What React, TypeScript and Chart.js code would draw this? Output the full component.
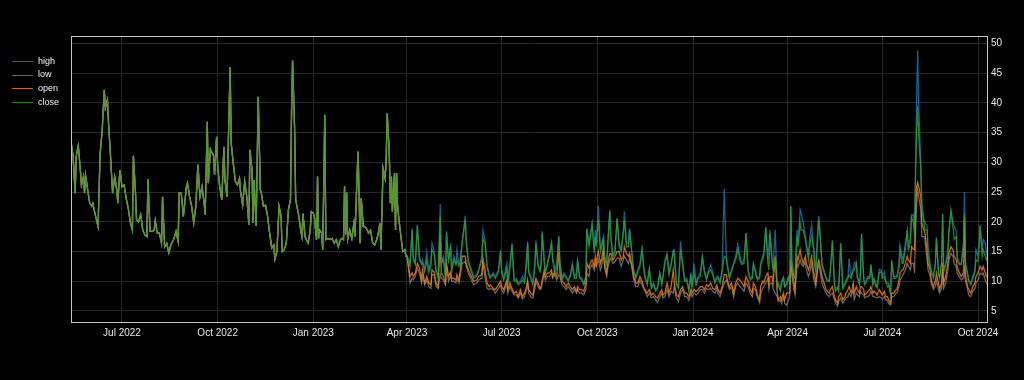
import React, { useEffect, useRef } from 'react';
import { Chart, registerables } from 'chart.js';

Chart.register(...registerables);

// ---------- data ----------
const START_DATE = '2022-05-13';

const tickDates = ['2022-07-01', '2022-10-01', '2023-01-01', '2023-04-01', '2023-07-01', '2023-10-01', '2024-01-01', '2024-04-01', '2024-07-01', '2024-10-01'];
const tickLabels = ['Jul 2022', 'Oct 2022', 'Jan 2023', 'Apr 2023', 'Jul 2023', 'Oct 2023', 'Jan 2024', 'Apr 2024', 'Jul 2024', 'Oct 2024'];
const yTicks = [5, 10, 15, 20, 25, 30, 35, 40, 45, 50];

const seriesNames = ['high', 'low', 'open', 'close'];
const seriesColors = ['rgba(31,119,180,0.8)', 'rgba(127,127,127,0.8)', 'rgba(255,127,14,0.8)', 'rgba(44,160,44,0.8)'];

// days since START_DATE; before Apr 2023 all four series coincide
const earlyDays = [0,2,4,5,7,9,10,12,13,14,16,18,20,21,23,26,28,30,32,33,35,36,38,40,42,44,45,47,49,51,53,55,57,59,60,62,63,65,67,69,71,73,74,76,78,80,81,83,85,87,88,90,92,94,96,99,101,103,104,106,108,111,112,114,116,118,120,122,124,126,128,129,131,132,134,135,137,138,140,141,143,145,147,148,150,153,154,156,158,160,162,163,165,167,169,171,172,174,175,176,178,180,182,183,185,187,189,191,193,195,196,198,200,202,203,205,207,209,211,212,213,215,216,219,221,222,223,225,227,228,230,231,233,234,236,237,238,239,241,242,244,245,247,249,251,253,255,257,259,261,262,263,264,265,266,268,270,272,273,275,276,278,279,281,282,284,286,288,290,292,294,296,297,298,300,302,303,304,306,307,308,309,311,312,313,314,316,318,319,321,322];
const earlyValues = [33.5,31.0,24.8,31.0,32.8,28.7,26.2,27.6,24.8,27.8,25.4,23.1,22.6,23.1,21.4,19.2,31.5,35.4,42.2,39.1,40.5,36.8,31.0,24.8,27.6,25.4,23.1,28.7,25.9,26.2,24.0,22.3,20.0,18.6,31.1,24.8,20.3,20.0,21.2,18.6,17.8,17.5,27.2,18.4,18.4,18.6,20.2,18.1,18.1,16.4,24.2,15.8,16.4,14.8,16.1,17.2,18.4,16.7,24.9,24.8,20.9,25.9,26.5,24.2,22.6,19.8,22.6,29.6,24.2,25.9,23.1,21.2,36.8,26.5,32.2,31.8,31.2,27.9,34.3,29.3,25.9,23.7,32.6,27.0,24.2,46.0,33.2,29.8,26.8,26.2,27.3,25.1,22.8,26.8,24.2,19.5,32.1,28.7,19.8,27.0,19.3,41.0,25.4,24.8,22.6,22.8,20.9,18.1,15.6,16.1,13.7,15.0,22.6,20.9,15.0,15.3,16.4,22.0,23.7,38.2,47.1,35.4,23.7,21.0,18.4,17.5,21.4,17.5,16.7,16.4,18.6,21.7,21.4,20.9,17.0,27.6,17.2,18.6,18.1,15.3,38.0,17.0,17.2,17.0,17.2,16.4,17.0,15.8,17.0,17.2,17.0,26.0,17.8,24.9,17.0,18.6,17.2,19.8,17.5,27.6,31.8,16.4,24.0,19.2,19.2,18.9,18.1,18.6,16.4,16.1,17.0,18.6,19.8,15.3,29.0,27.3,30.4,38.2,31.5,23.1,27.6,21.7,28.2,18.6,28.2,22.6,19.2,16.4,15.0,15.3,14.2];

const lateDays = [323,325,326,328,329,331,333,335,337,338,340,342,344,346,347,349,351,353,355,356,358,360,361,363,365,366,368,370,371,373,374,376,379,380,382,385,387,390,392,395,396,398,400,402,403,406,408,411,413,414,416,419,420,422,424,426,428,430,432,434,436,
438,439,440,442,444,446,447,449,451,452,453,455,456,458,460,462,463,465,467,469,470,472,474,476,478,480,482,484,486,487,489,491,493,495,496,498,499,501,503,504,505,507,509,510,512,513,515,516,518,519,521,523,525,527,529,531,532,534,536,537,539,541,543,545,547,549,551,552,554,556,558,560,562,564,566,568,569,571,573,575,577,579,580,582,584,586,588,590,592,594,596,597,599,601,603,605,607,609,611,613,615,617,619,621,622,624,626,628,630,631,633,635,637,639,641,643,645,647,649,651,
653,655,656,658,660,662,663,665,666,668,670,671,672,674,675,677,679,680,682,683,685,686,688,690,691,692,693,695,696,698,699,701,702,704,706,707,709,710,712,714,715,716,718,719,721,722,724,726,727,729,730,732,734,735,737,738,740,742,744,745,747,748,750,752,753,755,756,758,759,760,762,763,765,766,768,769,771,772,774,775,777,779,780,782,783,785,786,788,789,791,793,794,796,797,799,800,802,804,805,807,808,810,811,812,813,814,815,817,818,820,821,823,824,826,827,829,831,832,834,835,837,838,839,841,843,844,846,848,849,851,852,854,856,858,859,860,862,863,865,867,869,870,872,873,874,876,877,879,880,881];

const highValues = [14.2,13.6,13.0,18.9,14.2,13.0,19.5,14.2,13.0,13.6,11.9,15.0,11.9,13.0,16.4,15.3,11.9,10.8,23.0,13.0,14.2,10.8,18.4,13.6,16.4,11.9,14.2,13.0,15.3,12.8,13.0,16.4,21.0,17.0,13.6,11.9,10.8,11.1,11.9,14.2,18.6,17.0,13.0,11.1,10.8,11.4,10.8,11.9,15.3,11.9,10.5,13.0,9.7,12.8,16.4,10.2,10.5,9.7,10.0,10.8,10.0,
14.2,16.7,11.9,10.8,9.7,13.0,16.9,13.0,11.9,13.0,18.4,13.6,11.6,13.0,14.7,16.4,14.2,11.9,13.0,17.6,13.6,10.5,11.4,10.8,10.2,11.1,13.0,10.8,11.4,13.6,10.8,10.5,9.7,10.8,18.9,16.4,17.5,19.8,15.3,18.6,16.4,22.7,15.3,15.8,17.5,14.2,13.0,16.4,22.0,17.5,14.2,15.3,20.6,16.4,15.3,18.6,21.7,16.4,16.4,18.9,15.3,11.9,10.8,11.9,13.0,15.6,11.9,10.8,9.7,12.2,9.1,9.7,8.6,9.1,11.4,9.7,10.8,13.6,14.6,11.4,13.0,15.2,15.3,9.7,9.1,16.7,13.0,10.2,10.5,8.6,11.4,9.1,13.0,9.7,10.8,11.4,14.2,11.9,10.5,11.9,12.8,11.4,10.0,10.8,10.8,10.0,11.9,25.5,14.2,13.0,10.8,11.9,13.0,14.2,16.2,14.2,13.0,13.6,18.1,11.9,
10.5,10.8,13.0,11.9,10.5,10.8,13.0,14.2,14.7,19.1,13.6,16.1,18.6,13.6,11.9,18.6,9.1,9.7,8.6,10.0,10.7,9.1,9.7,10.8,9.7,22.6,13.6,10.8,10.8,18.6,16.4,22.0,21.4,19.8,17.5,16.4,14.2,17.0,19.5,15.8,13.0,11.9,19.5,21.0,15.8,13.0,11.9,10.8,10.2,10.2,11.9,16.9,9.7,8.6,9.1,8.6,16.4,9.1,9.7,10.2,10.8,13.8,10.8,11.9,13.0,13.3,10.8,9.7,11.9,18.0,10.8,9.7,10.2,10.8,10.8,12.8,9.7,10.5,9.4,9.1,12.0,11.9,10.8,11.6,10.2,9.7,9.7,8.0,13.6,10.8,10.8,10.8,13.0,16.1,14.2,13.6,16.1,18.6,15.8,17.2,20.9,21.2,18.6,29.8,41.0,48.8,39.4,29.6,23.1,20.3,19.9,19.2,15.8,13.0,11.9,10.8,13.0,17.4,11.4,10.8,13.0,21.4,11.9,13.0,15.3,18.6,22.0,19.8,19.2,18.6,14.2,13.0,13.0,16.4,25.0,13.0,11.4,10.2,9.7,10.8,11.9,15.3,14.2,15.8,19.5,15.3,17.0,16.4,14.7,15.3];

const closeValues = [14.2,13.0,12.5,18.6,13.6,12.8,19.3,13.6,12.8,13.0,11.6,13.6,11.4,12.8,15.3,14.7,11.6,10.5,20.9,13.0,13.6,10.5,18.2,13.0,15.8,11.6,13.6,12.8,13.6,12.5,12.8,16.4,20.3,16.4,13.0,11.6,10.5,10.8,11.9,13.6,17.2,16.4,12.5,10.8,10.5,11.1,10.5,11.6,15.0,11.6,10.2,12.2,9.4,12.5,16.1,10.0,10.2,9.4,9.7,10.2,9.7,
13.0,16.4,11.4,10.5,9.4,12.5,16.4,12.5,11.6,12.8,18.1,13.0,11.4,12.8,14.2,16.4,13.6,11.4,12.5,17.5,13.0,10.2,11.1,10.5,10.0,10.8,12.5,10.5,10.5,13.6,10.5,10.2,9.4,10.5,18.8,15.8,17.0,19.5,14.7,17.5,15.8,20.3,15.0,15.8,17.2,13.6,12.8,15.8,21.7,17.2,14.2,15.0,20.6,15.8,15.0,18.1,20.3,15.8,15.8,18.6,15.0,11.6,10.5,11.6,12.5,15.3,11.4,10.5,9.4,11.9,8.8,9.4,8.3,8.8,11.4,9.4,10.5,13.0,14.4,11.1,12.8,15.0,14.2,9.4,8.8,15.3,12.8,10.0,10.2,8.3,11.1,8.8,11.4,9.4,10.5,10.8,13.9,11.4,10.2,11.6,11.9,11.1,9.7,10.5,10.5,9.7,11.6,14.2,13.9,12.5,10.5,11.6,12.8,13.6,15.3,13.6,12.8,13.0,18.1,11.6,
10.2,10.5,12.8,11.4,10.2,10.5,12.8,13.6,14.2,18.9,13.0,11.9,18.1,13.6,11.6,13.6,9.1,9.4,8.3,9.7,10.5,9.1,9.4,10.5,9.4,22.6,13.3,10.5,10.5,17.5,15.8,19.8,18.6,18.6,17.0,15.8,13.6,15.8,17.5,15.3,12.8,11.6,17.5,20.3,15.6,12.8,11.4,10.5,10.0,10.0,11.6,16.7,9.4,8.3,8.8,8.3,16.4,8.8,9.4,9.7,10.5,11.1,10.5,11.9,11.9,13.0,10.5,9.4,10.8,18.0,10.5,9.4,10.0,10.5,10.5,12.8,9.4,10.2,9.1,8.8,11.4,11.6,10.5,10.8,10.0,9.1,9.4,7.7,13.3,10.5,10.5,10.8,11.9,15.3,13.0,13.0,15.3,18.6,15.3,16.4,20.9,19.8,17.5,28.7,35.4,39.4,34.3,28.7,22.0,19.8,18.6,18.6,14.2,12.5,11.4,10.5,12.8,17.2,11.1,10.5,13.0,21.3,11.6,12.8,14.2,18.1,21.7,19.2,17.0,17.5,13.6,12.8,12.8,15.8,21.4,12.8,11.1,10.0,9.4,10.5,11.6,13.6,13.3,15.8,19.2,14.2,15.3,14.2,13.6,14.2];

const openValues = [14.2,11.9,10.8,11.4,10.8,11.4,13.0,12.2,10.2,11.9,9.7,10.8,9.7,9.4,11.9,11.6,9.7,9.1,17.8,11.4,10.8,9.7,13.0,10.8,11.6,10.5,10.5,10.2,11.1,10.2,11.4,14.2,14.2,13.0,11.9,10.8,10.0,10.2,10.8,11.1,13.9,11.9,9.7,9.1,9.4,8.8,8.6,9.4,10.0,9.1,8.6,10.2,8.6,9.7,8.8,8.0,8.3,7.4,8.6,7.4,8.0,
9.1,10.2,8.6,8.0,7.7,9.7,10.5,9.7,8.8,9.1,10.2,11.9,10.8,11.4,11.4,11.9,10.8,11.6,10.8,15.0,11.4,10.0,9.7,9.1,9.7,9.1,8.6,9.1,8.3,9.1,8.6,8.6,8.3,9.7,13.0,12.2,13.0,13.6,12.5,14.2,13.0,15.0,13.0,13.6,15.8,13.0,11.4,13.0,14.7,14.7,13.6,14.2,15.0,15.0,13.6,14.2,15.8,14.7,14.2,14.7,13.0,10.8,9.7,9.7,10.8,10.0,8.8,8.6,8.0,8.6,7.7,8.0,7.4,7.2,8.0,8.6,7.7,8.0,9.7,8.0,9.1,11.9,9.7,7.7,7.4,8.6,9.1,8.0,8.0,7.4,8.6,8.0,8.6,8.3,8.6,9.1,9.1,8.6,9.4,9.1,9.7,8.8,8.6,9.4,8.6,8.0,9.1,11.1,11.1,10.2,9.1,9.7,8.0,9.7,10.5,10.2,9.7,9.1,10.8,10.0,
8.6,8.0,9.7,9.1,7.7,6.9,9.1,10.0,9.7,10.8,11.4,9.7,10.8,10.8,9.7,14.2,8.0,6.9,7.4,6.9,8.0,6.9,8.0,8.0,8.0,13.6,11.9,9.7,8.6,14.2,13.6,15.3,14.2,13.0,14.2,13.0,11.9,12.5,14.2,11.4,10.8,9.7,13.0,13.6,11.9,10.8,9.7,8.6,8.3,8.0,8.6,9.1,7.4,6.9,6.3,7.4,8.0,6.9,7.4,8.0,8.6,9.1,8.0,9.7,8.0,9.1,8.6,8.0,9.1,9.1,8.6,7.7,8.0,8.3,8.6,9.1,8.0,8.3,8.0,7.7,8.6,8.0,7.7,8.3,7.4,7.4,6.9,6.3,8.0,8.0,8.6,8.6,10.2,11.4,11.9,11.9,13.0,14.2,13.6,13.0,15.8,15.3,15.3,22.0,25.9,26.6,25.9,24.2,19.8,18.6,18.1,15.3,13.0,11.9,10.2,9.1,10.2,11.4,9.7,8.6,9.7,13.0,9.7,10.8,13.0,14.7,15.8,15.3,14.2,13.6,12.5,11.4,10.8,11.4,20.9,10.8,9.1,8.6,8.0,9.1,9.7,10.8,11.4,11.9,12.5,11.9,12.5,11.4,10.8,11.1];

const lowValues = [14.2,11.4,9.7,10.5,10.2,10.8,12.2,11.4,9.7,11.1,9.4,10.2,9.1,8.8,11.1,11.1,9.1,8.8,11.1,10.5,10.2,9.4,12.5,10.0,11.1,10.0,10.0,9.7,10.5,9.7,10.8,13.0,13.3,12.5,11.4,10.2,9.4,9.7,10.2,10.5,13.0,10.8,8.8,8.6,8.8,8.6,8.0,8.8,9.4,8.6,8.0,9.7,8.0,9.1,8.3,7.7,7.7,7.2,8.0,7.0,7.4,
8.6,9.7,8.0,7.4,7.2,8.8,10.0,9.1,8.6,8.8,9.7,11.4,10.2,10.8,10.8,11.4,10.5,11.1,10.2,11.1,10.8,9.4,9.1,8.6,9.1,8.6,8.0,8.6,8.0,8.6,8.0,8.0,7.7,8.6,11.4,10.8,12.2,12.8,11.9,13.0,12.5,13.6,11.9,12.5,14.7,12.2,10.8,12.2,13.6,13.9,13.0,13.3,13.9,13.9,12.5,13.6,14.2,13.6,13.0,13.9,12.5,10.2,9.1,9.1,10.2,9.4,8.6,8.3,7.4,8.0,7.2,7.4,6.9,6.4,7.4,8.0,7.2,7.4,8.6,7.4,8.3,8.0,9.1,7.2,6.6,8.0,8.6,7.4,7.4,6.8,8.0,7.4,8.0,7.7,8.0,8.6,8.6,8.0,8.8,8.6,8.8,8.3,8.0,8.8,8.0,7.4,8.6,9.7,10.2,9.7,8.6,9.1,7.4,9.1,9.7,9.1,8.8,8.3,9.7,9.1,
8.0,7.4,8.8,8.6,7.2,6.4,8.0,8.8,9.1,9.7,10.5,8.6,9.7,9.7,8.8,8.0,7.4,6.6,6.9,6.3,7.4,6.3,6.0,6.9,7.4,12.5,11.1,8.6,7.7,13.0,12.5,13.6,13.0,12.5,13.3,11.9,10.8,11.4,13.0,10.5,9.7,9.1,12.2,12.8,10.8,9.7,8.8,8.0,7.7,7.4,7.7,8.0,6.9,6.3,5.8,6.6,7.2,6.3,6.9,7.2,7.4,8.0,7.4,8.6,6.9,8.0,7.7,7.4,8.3,8.0,7.7,7.2,7.4,7.4,7.7,8.3,7.4,7.4,7.2,7.2,7.4,7.2,7.0,7.4,6.9,6.8,6.3,6.0,7.4,7.4,8.0,8.0,9.1,10.2,10.8,11.1,11.9,13.0,12.5,11.9,13.0,13.0,11.4,18.6,23.1,25.4,24.2,22.0,17.5,17.5,17.0,13.6,11.9,10.8,9.7,8.6,9.1,10.2,8.6,8.0,8.8,11.9,8.8,9.7,11.9,13.6,14.7,14.2,13.0,12.5,11.4,10.8,10.2,10.5,11.9,10.0,8.6,7.7,7.4,8.3,8.8,9.7,10.2,10.8,11.4,11.1,11.4,10.2,9.7,9.4];

// ---------- helpers ----------
const DAY_MS = 86400000;
const dayOf = (d: string) => Math.round((Date.parse(d) - Date.parse(START_DATE)) / DAY_MS);
const lateSeries = [highValues, lowValues, openValues, closeValues];

const buildPoints = (late: number[]) => [
  ...earlyDays.map((x, i) => ({ x, y: earlyValues[i] })),
  ...lateDays.map((x, i) => ({ x, y: late[i] })),
];

const framePlugin = {
  id: 'frame',
  beforeDraw(chart: any) {
    const { ctx, width, height } = chart;
    ctx.save();
    ctx.fillStyle = '#000000';
    ctx.fillRect(0, 0, width, height);
    ctx.restore();
  },
  afterDraw(chart: any) {
    const { ctx, chartArea } = chart;
    ctx.save();
    ctx.strokeStyle = '#c4c4c4';
    ctx.lineWidth = 1;
    ctx.strokeRect(
      Math.round(chartArea.left) + 0.5,
      Math.round(chartArea.top) + 0.5,
      Math.round(chartArea.right - chartArea.left) - 1,
      Math.round(chartArea.bottom - chartArea.top) - 1
    );
    ctx.restore();
  },
};

export default function App() {
  const canvasRef = useRef<HTMLCanvasElement | null>(null);

  useEffect(() => {
    document.body.style.margin = '0';
    document.body.style.background = '#000';
    const canvas = canvasRef.current;
    if (!canvas) return;

    const chart = new Chart(canvas, {
      type: 'line',
      data: {
        datasets: seriesNames.map((name, i) => ({
          label: name,
          data: buildPoints(lateSeries[i]),
          borderColor: seriesColors[i],
          backgroundColor: seriesColors[i],
          borderWidth: 1.3,
          pointRadius: 0,
          fill: false,
          tension: 0,
          order: seriesNames.length - 1 - i,
        })),
      },
      options: {
        animation: false,
        responsive: false,
        maintainAspectRatio: false,
        devicePixelRatio: 1,
        layout: { padding: { left: 71, top: 36, right: 0, bottom: 0 } },
        plugins: {
          legend: { display: false },
          tooltip: { enabled: false },
        },
        scales: {
          x: {
            type: 'linear',
            position: 'bottom',
            min: 0,
            max: 881.6,
            afterBuildTicks: (axis: any) => {
              axis.ticks = tickDates.map((d) => ({ value: dayOf(d) }));
            },
            afterFit: (scale: any) => {
              scale.height = 57;
            },
            grid: { color: '#282828', lineWidth: 1, drawTicks: false },
            border: { display: false },
            ticks: {
              autoSkip: false,
              maxRotation: 0,
              minRotation: 0,
              padding: 4,
              color: '#e6e6e6',
              font: { family: '"Liberation Sans", Arial, sans-serif', size: 10 },
              callback: (_v: any, index: number) => tickLabels[index],
            },
          },
          y: {
            type: 'linear',
            position: 'right',
            min: 2.98,
            max: 51.23,
            afterBuildTicks: (axis: any) => {
              axis.ticks = yTicks.map((v) => ({ value: v }));
            },
            afterFit: (scale: any) => {
              scale.width = 36;
            },
            grid: { color: '#282828', lineWidth: 1, drawTicks: false },
            border: { display: false },
            ticks: {
              padding: 3,
              color: '#e6e6e6',
              font: { family: '"Liberation Sans", Arial, sans-serif', size: 10 },
              callback: (v: any) => String(v),
            },
          },
        },
      },
      plugins: [framePlugin],
    } as any);

    return () => chart.destroy();
  }, []);

  return (
    <div style={{ position: 'relative', width: 1024, height: 380, background: '#000', overflow: 'hidden' }}>
      <canvas ref={canvasRef} width={1024} height={380} style={{ display: 'block', width: 1024, height: 380 }} />
      <div style={{ position: 'absolute', left: 12, top: 54.5, fontFamily: '"Liberation Sans", Arial, sans-serif', fontSize: 9, color: '#f2f2f2' }}>
        {seriesNames.map((name, i) => (
          <div key={name} style={{ display: 'flex', alignItems: 'center', height: 13.7 }}>
            <span style={{ display: 'inline-block', width: 21, height: 0, borderTop: `1.5px solid ${seriesColors[i]}` }} />
            <span style={{ marginLeft: 5, lineHeight: '13.7px' }}>{name}</span>
          </div>
        ))}
      </div>
    </div>
  );
}
